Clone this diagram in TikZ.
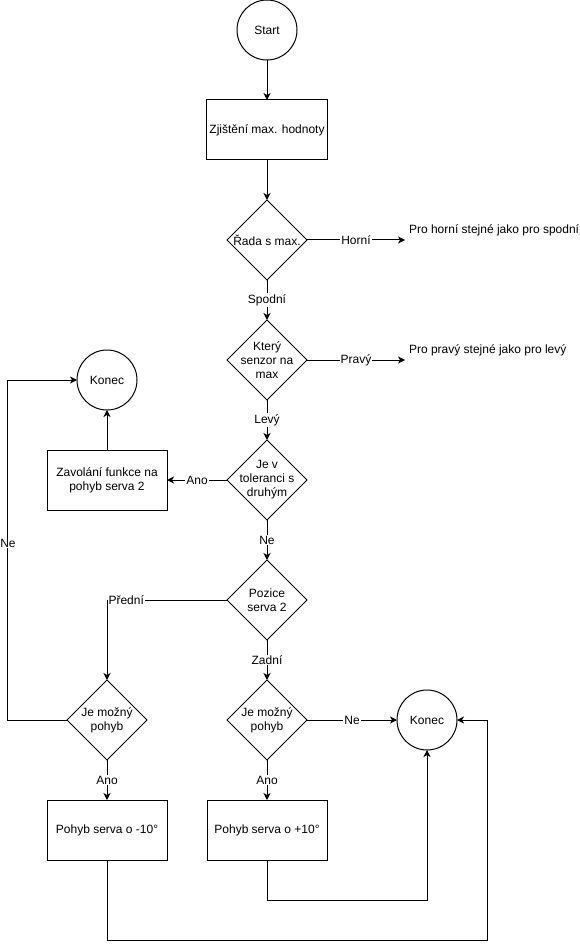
\documentclass[tikz,border=0pt]{standalone}
\usepackage{fontspec}
\setmainfont{Liberation Sans}
\usetikzlibrary{arrows.meta,positioning,shapes.geometric}
\tikzset{
  chartfont/.style={font=\fontsize{12}{14}\selectfont},
  terminal/.style={circle, draw=black, line width=1pt, minimum size=60pt,
    inner sep=0pt, outer sep=0pt, chartfont},
  process/.style={rectangle, draw=black, line width=1pt, minimum width=120pt,
    minimum height=60pt, align=center, inner sep=3pt, outer sep=0pt, chartfont},
  decision/.style={diamond, draw=black, line width=1pt, minimum width=80pt,
    minimum height=80pt, inner sep=-6pt, outer sep=0pt, align=center, chartfont},
  note/.style={anchor=south west, inner sep=4pt, outer sep=0pt, chartfont},
  flow/.style={-{Stealth[length=7pt, width=7pt, inset=2pt]}, line width=1pt, draw=black},
  edgelabel/.style={fill=white, inner sep=1pt, chartfont}
}
\begin{document}
\begin{tikzpicture}[x=1pt, y=-1pt, node distance=40pt]
  \useasboundingbox (0,0) rectangle (580,949);

  \node[terminal] (start) at (267,30) {Start};
  \node[process, below=of start] (zjisteni) {Zjištění max. hodnoty};
  \node[decision, below=of zjisteni] (rada) {Řada s max.};
  \node[note] (horni) at ([xshift=98pt]rada.east) {Pro horní stejné jako pro spodní};
  \node[decision, below=of rada] (senzor) {Který\\senzor na\\max};
  \node[note] (pravy) at ([xshift=98pt]senzor.east) {Pro pravý stejné jako pro levý};
  \node[decision, below=of senzor] (tolerance) {Je v\\toleranci s\\druhým};
  \node[process, left=60pt of tolerance] (volani) {Zavolání funkce na\\pohyb serva 2};
  \node[terminal, above=of volani] (konecA) {Konec};
  \node[decision, below=of tolerance] (pozice) {Pozice\\serva 2};
  \node[decision, below=of pozice] (mozny2) {Je možný\\pohyb};
  \node[decision, left=80pt of mozny2] (mozny1) {Je možný\\pohyb};
  \node[terminal, right=90pt of mozny2] (konecB) {Konec};
  \node[process, below=of mozny1] (minus) {Pohyb serva o -10°};
  \node[process, below=of mozny2] (plus) {Pohyb serva o +10°};

  \draw[flow] (start) -- (zjisteni);
  \draw[flow] (zjisteni) -- (rada);
  \draw[flow] (rada) -- node[edgelabel] {Horní} (horni.south west);
  \draw[flow] (rada) -- node[edgelabel] {Spodní} (senzor);
  \draw[flow] (senzor) -- node[edgelabel] {Pravý} (pravy.south west);
  \draw[flow] (senzor) -- node[edgelabel] {Levý} (tolerance);
  \draw[flow] (tolerance) -- node[edgelabel] {Ano} (volani);
  \draw[flow] (volani) -- (konecA);
  \draw[flow] (tolerance) -- node[edgelabel] {Ne} (pozice);
  \draw[flow] (pozice.west) -| node[edgelabel, pos=.42] {Přední} (mozny1.north);
  \draw[flow] (pozice) -- node[edgelabel] {Zadní} (mozny2);
  \draw[flow] (mozny1.west) -- ++(-60pt,0) |- node[edgelabel, pos=.26, xshift=1pt, inner sep=.5pt] {Ne} (konecA.west);
  \draw[flow] (mozny2) -- node[edgelabel] {Ne} (konecB);
  \draw[flow] (mozny1) -- node[edgelabel] {Ano} (minus);
  \draw[flow] (mozny2) -- node[edgelabel] {Ano} (plus);
  \draw[flow] (plus.south) -- ++(0,-40pt) -| (konecB.south);
  \draw[flow] (minus.south) |- ++(380pt,-80pt) |- (konecB.east);
\end{tikzpicture}
\end{document}
